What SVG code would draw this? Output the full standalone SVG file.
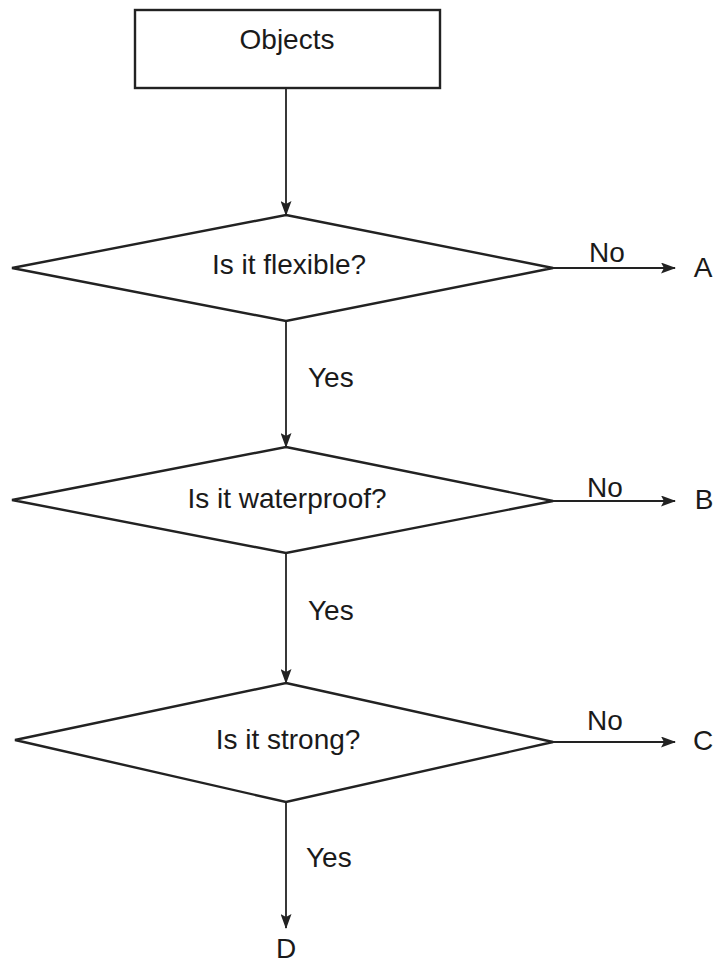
<svg xmlns="http://www.w3.org/2000/svg" width="719" height="967" viewBox="0 0 719 967">
<style>
.shape{fill:#fff;stroke:#222;stroke-width:2.4}
.conn{fill:none;stroke:#222;stroke-width:1.8}
text{font-family:"Liberation Sans",Arial,sans-serif;font-size:28px;fill:#1a1a1a}
.c{text-anchor:middle}
</style>
<defs>
<marker id="arr" viewBox="0 0 15 11" refX="14" refY="5.5" markerWidth="15" markerHeight="11" markerUnits="userSpaceOnUse" orient="auto">
<path d="M0,0 L15,5.5 L0,11 L3,5.5 Z" fill="#222"/>
</marker>
</defs>
<rect width="719" height="967" fill="#fff"/>
<g id="objects">
<rect class="shape" x="135" y="10" width="305" height="78"/>
<text class="c" x="287" y="49">Objects</text>
</g>
<g id="flexible">
<polygon class="shape" points="286,215 553,268 286,321 12,268"/>
<text class="c" x="289" y="274">Is it flexible?</text>
</g>
<g id="waterproof">
<polygon class="shape" points="286,447 553,501 286,553 12,500"/>
<text class="c" x="287" y="508">Is it waterproof?</text>
</g>
<g id="strong">
<polygon class="shape" points="286,683 553,742 286,802 15,740"/>
<text class="c" x="288" y="749">Is it strong?</text>
</g>
<g id="endA"><text class="c" x="703" y="277">A</text></g>
<g id="endB"><text class="c" x="704" y="509">B</text></g>
<g id="endC"><text class="c" x="703" y="750">C</text></g>
<g id="endD"><text class="c" x="286" y="958">D</text></g>
<g id="connectors">
<line class="conn" x1="286" y1="88" x2="286" y2="215" marker-end="url(#arr)"/>
<line class="conn" x1="286" y1="321" x2="286" y2="447" marker-end="url(#arr)"/>
<line class="conn" x1="286" y1="553" x2="286" y2="683" marker-end="url(#arr)"/>
<line class="conn" x1="286" y1="802" x2="286" y2="928" marker-end="url(#arr)"/>
<line class="conn" x1="553" y1="268" x2="675" y2="268" marker-end="url(#arr)"/>
<line class="conn" x1="553" y1="501" x2="675" y2="501" marker-end="url(#arr)"/>
<line class="conn" x1="553" y1="742" x2="675" y2="742" marker-end="url(#arr)"/>
<text x="308" y="387">Yes</text>
<text x="308" y="620">Yes</text>
<text x="306" y="867">Yes</text>
<text class="c" x="607" y="262">No</text>
<text class="c" x="605" y="497">No</text>
<text class="c" x="605" y="730">No</text>
</g>
</svg>
